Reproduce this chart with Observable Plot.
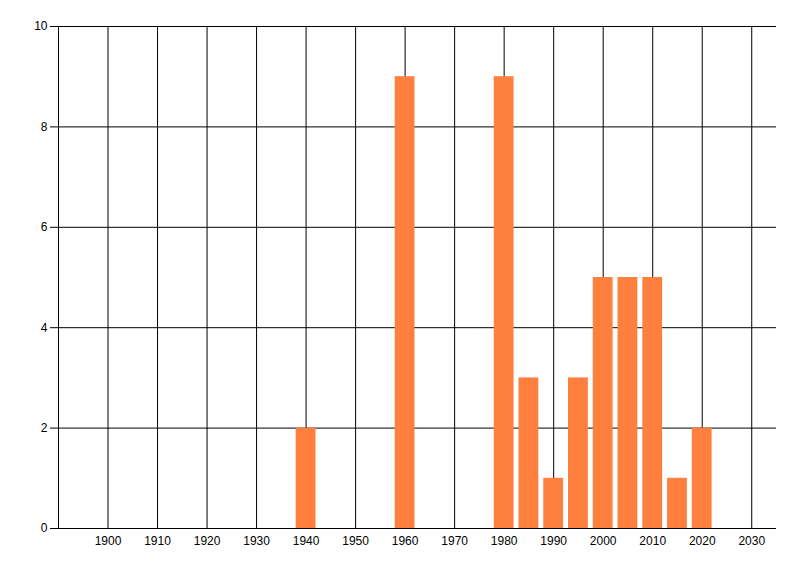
<!DOCTYPE html>
<html>
<head>
<meta charset="utf-8">
<script src="https://cdn.jsdelivr.net/npm/d3@7"></script>
<script src="https://cdn.jsdelivr.net/npm/@observablehq/plot@0.6"></script>
<style>
  body { margin: 0; background: #fff; }
  #chart svg { display: block; }
</style>
</head>
<body>
<div id="chart"></div>
<script>
// valores
const years = [1940, 1960, 1980, 1985, 1990, 1995, 2000, 2005, 2010, 2015, 2020];
const counts = [2, 9, 9, 3, 1, 3, 5, 5, 5, 1, 2];
const xTicks = [1900, 1910, 1920, 1930, 1940, 1950, 1960, 1970, 1980, 1990, 2000, 2010, 2020, 2030];
const yTicks = [0, 2, 4, 6, 8, 10];

const data = years.map((year, i) => ({year, count: counts[i]}));

let chart = Plot.plot({
  width: 800,
  height: 576,
  marginLeft: 58,
  marginRight: 24,
  marginTop: 26,
  marginBottom: 48,
  style: {fontFamily: "'Liberation Sans', Arial, sans-serif", fontSize: "12px", color: "black", background: "white"},
  x: {domain: [1890, 2035], ticks: xTicks, tickFormat: d => String(d), label: null},
  y: {domain: [0, 10], ticks: yTicks, tickFormat: d => String(d), label: null},
  marks: [
    Plot.gridX(xTicks, {stroke: "black", strokeOpacity: 1}),
    Plot.gridY(yTicks, {stroke: "black", strokeOpacity: 1}),
    Plot.rectY(data, {
      x1: d => d.year - 2,
      x2: d => d.year + 2,
      y: "count",
      fill: "#ff7f3f"
    }),
    Plot.axisX(xTicks, {tickSize: 0, tickPadding: 8, fontSize: 12, tickFormat: d => String(d), fill: "black"}),
    Plot.axisY(yTicks, {tickSize: 8, tickPadding: 3, fontSize: 12, tickFormat: d => String(d), stroke: "black", fill: "black"}),
    Plot.ruleX([1890], {stroke: "black"}),
    Plot.ruleY([0], {stroke: "black"})
  ]
});

d3.select('#chart').append(() => chart);
</script>
</body>
</html>
